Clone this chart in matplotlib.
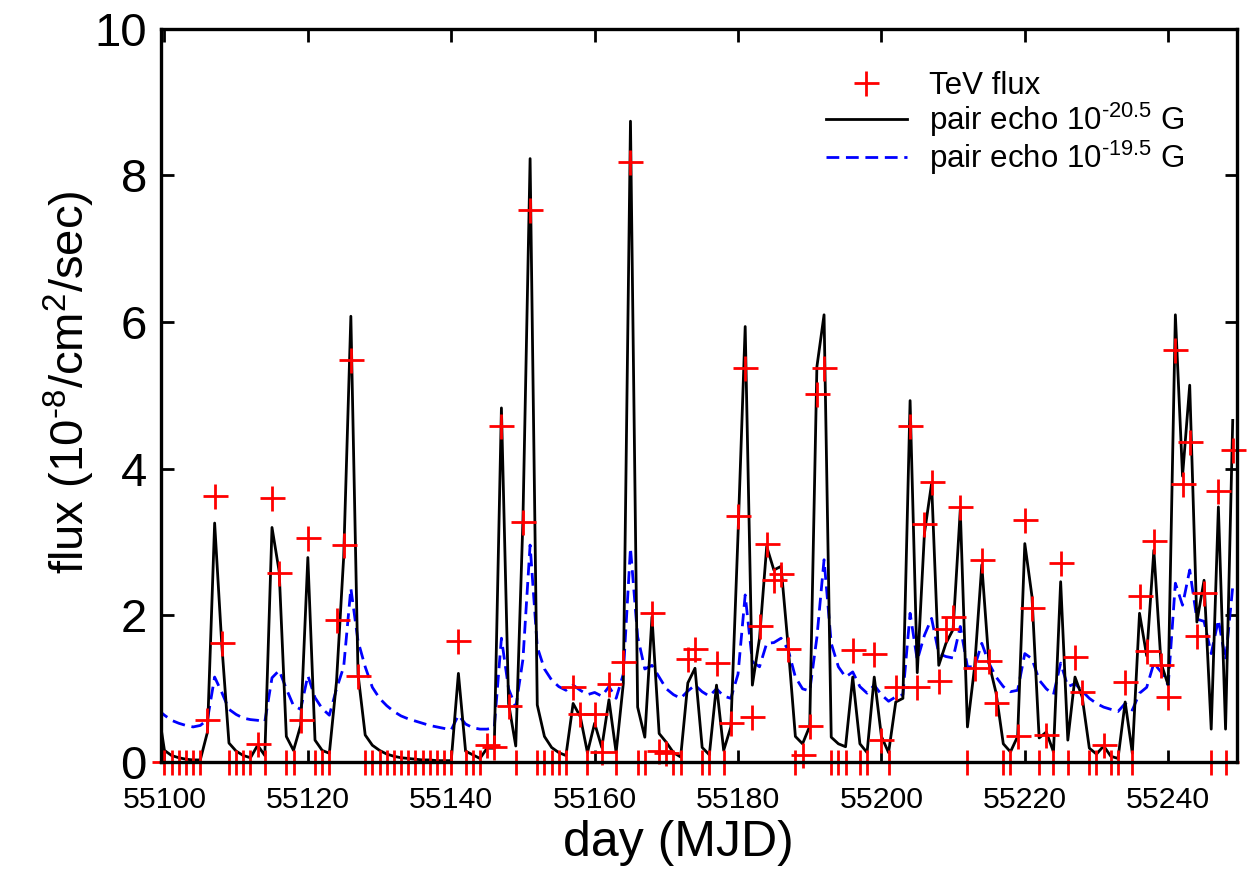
import numpy as np
import matplotlib
matplotlib.use("Agg")
import matplotlib.pyplot as plt

plt.rcParams["font.family"] = ["Liberation Sans", "DejaVu Sans"]
plt.rcParams["mathtext.default"] = "regular"
plt.rcParams["axes.unicode_minus"] = False

# ---- model curves, one value per day from MJD 55099 to 55249 ----
model_day = np.arange(55099, 55250)

echo_205 = [
    0.80,                                                        # 99
    0.16, 0.09, 0.06, 0.04, 0.03, 0.03, 0.41, 3.26, 1.60, 0.26,  # 100-109
    0.15, 0.09, 0.06, 0.23, 0.09, 3.20, 2.60, 0.35, 0.16, 0.50,  # 110-119
    2.79, 0.30, 0.16, 0.12, 1.10, 2.80, 6.08, 1.20, 0.37, 0.23,  # 120-129
    0.16, 0.11, 0.08, 0.06, 0.05, 0.04, 0.03, 0.03, 0.02, 0.02,  # 130-139
    0.02, 1.21, 0.15, 0.10, 0.05, 0.19, 0.19, 4.83, 0.80, 0.22,  # 140-149
    3.30, 8.23, 0.78, 0.35, 0.20, 0.13, 0.09, 0.80, 0.62, 0.13,  # 150-159
    0.53, 0.20, 0.85, 0.13, 1.07, 8.74, 0.75, 0.34, 1.98, 0.39,  # 160-169
    0.27, 0.13, 0.07, 1.08, 1.28, 0.20, 0.10, 1.05, 0.16, 0.48,  # 170-179
    3.10, 5.94, 1.05, 1.69, 2.94, 2.62, 2.67, 1.57, 0.35, 0.25,  # 180-189
    0.49, 5.39, 6.10, 0.34, 0.25, 0.21, 1.16, 0.25, 0.13, 1.16,  # 190-199
    0.35, 0.13, 0.82, 0.87, 4.93, 1.22, 3.12, 3.80, 1.32, 1.62,  # 200-209
    1.81, 3.44, 0.48, 1.30, 2.69, 1.35, 0.94, 0.25, 0.14, 0.35,  # 210-219
    2.98, 2.26, 0.33, 0.41, 0.14, 2.46, 0.30, 1.16, 0.89, 0.19,  # 220-229
    0.11, 0.22, 0.08, 0.05, 0.82, 0.12, 2.03, 1.45, 2.89, 1.35,  # 230-239
    1.05, 6.10, 3.90, 5.14, 1.91, 2.48, 0.45, 3.48, 0.45, 4.66,  # 240-249
]

echo_195 = [
    0.72,                                                        # 99
    0.64, 0.57, 0.53, 0.50, 0.48, 0.50, 0.58, 1.16, 0.95, 0.72,  # 100-109
    0.65, 0.60, 0.58, 0.57, 0.55, 1.15, 1.25, 1.00, 0.77, 0.72,  # 110-119
    1.18, 0.88, 0.73, 0.64, 1.00, 1.30, 2.37, 1.65, 1.30, 1.02,  # 120-129
    0.87, 0.77, 0.69, 0.63, 0.59, 0.56, 0.53, 0.50, 0.48, 0.46,  # 130-139
    0.44, 0.64, 0.52, 0.47, 0.45, 0.45, 0.47, 1.69, 1.00, 0.75,  # 140-149
    1.40, 2.96, 1.57, 1.27, 1.12, 1.03, 0.98, 1.05, 0.98, 0.92,  # 150-159
    0.95, 0.90, 1.03, 0.87, 1.20, 2.92, 1.71, 1.27, 1.32, 1.16,  # 160-169
    1.00, 0.92, 0.87, 0.97, 1.05, 0.96, 0.90, 1.00, 0.90, 0.87,  # 170-179
    1.20, 2.28, 1.37, 1.30, 1.62, 1.63, 1.69, 1.53, 1.16, 1.00,  # 180-189
    0.97, 1.70, 2.76, 1.62, 1.30, 1.16, 1.23, 1.03, 0.94, 1.05,  # 190-199
    0.92, 0.83, 0.89, 0.92, 2.03, 1.39, 1.73, 1.96, 1.48, 1.44,  # 200-209
    1.42, 1.85, 1.30, 1.30, 1.62, 1.35, 1.16, 1.03, 0.96, 0.98,  # 210-219
    1.48, 1.41, 1.12, 1.00, 0.92, 1.35, 1.03, 1.07, 0.97, 0.87,  # 220-229
    0.80, 0.75, 0.72, 0.69, 0.80, 0.71, 0.94, 1.02, 1.35, 1.23,  # 230-239
    1.05, 2.44, 2.14, 2.62, 1.95, 1.92, 1.48, 1.94, 1.39, 2.39,  # 240-249
]

# ---- TeV observations (MJD - 55000, flux in 1e-8 /cm^2/s) ----
tev_day = [
    100, 101, 102, 103, 104, 105, 106, 107, 108, 109,
    110, 111, 112, 113, 114, 115, 116, 117, 118, 119,
    120, 121, 122, 123, 124, 125, 126, 127, 128, 129,
    130, 131, 132, 133, 134, 135, 136, 137, 138, 139,
    140, 141, 142, 143, 144, 145, 146, 147, 148, 149,
    150, 151, 152, 153, 154, 155, 156, 157, 158, 159,
    160, 161, 162, 163, 164, 165, 166, 167, 168, 169,
    170, 171, 172, 173, 174, 175, 176, 177, 178, 179,
    180, 181, 182, 183, 184, 185, 186, 187, 188, 189,
    190, 191, 192, 193, 194, 195, 196, 197, 198, 199,
    200, 201, 202, 204, 205, 206, 207, 208, 209,
    210, 211, 212, 213, 214, 215, 216, 217, 218, 219,
    220, 221, 222, 223, 224, 225, 226, 227, 228, 229,
    230, 231, 232, 233, 234, 235, 236, 237, 238, 239,
    240, 241, 242, 243, 244, 245, 246, 247, 248, 249,
]
tev_flux = [
    0, 0, 0, 0, 0, 0, 0.57, 3.63, 1.63, 0,
    0, 0, 0, 0.25, 0, 3.60, 2.58, 0, 0, 0.57,
    3.05, 0, 0, 0, 1.94, 2.96, 5.49, 1.18, 0, 0,
    0, 0, 0, 0, 0, 0, 0, 0, 0, 0,
    0, 1.65, 0, 0, 0, 0.24, 0.20, 4.58, 0.76, 0,
    3.27, 7.53, 0, 0, 0, 0, 0, 1.02, 0.66, 0,
    0.66, 0.14, 1.07, 0, 1.37, 8.19, 0, 0, 2.04, 0.15,
    0.12, 0, 0, 1.41, 1.54, 0, 0, 1.35, 0, 0.53,
    3.35, 5.37, 0.62, 1.85, 2.98, 2.49, 2.56, 1.54, 0, 0.10,
    0.49, 5.02, 5.37, 0, 0, 0, 1.53, 0, 0, 1.48,
    0.30, 0, 1.02, 4.58, 1.02, 3.25, 3.82, 1.11, 1.82,
    1.98, 3.48, 0, 1.29, 2.76, 1.38, 0.80, 0, 0, 0.35,
    3.30, 2.10, 0, 0.37, 0, 2.71, 0, 1.43, 0.95, 0,
    0, 0.23, 0, 0, 1.09, 0, 2.26, 1.51, 3.02, 1.32,
    0.89, 5.62, 3.79, 4.36, 1.72, 2.31, 0, 3.70, 0, 4.26,
]

xticks = [55100, 55120, 55140, 55160, 55180, 55200, 55220, 55240]
yticks = [0, 2, 4, 6, 8, 10]

HY = "\u2010"  # plain hyphen in the exponents, as in the original figure

fig = plt.figure(figsize=(12.47, 8.73), dpi=100)
ax = fig.add_axes([0.129, 0.127, 0.863, 0.840])

tev_mjd = np.array(tev_day) + 55000
ax.plot(tev_mjd, tev_flux, ls="none", marker="+", color="red", ms=18,
        mew=2.0, clip_on=False, zorder=2.2, label="TeV flux")
ax.plot(model_day, echo_205, color="black", lw=2.0, zorder=2.1,
        label="pair echo 10$^{" + HY + "20.5}$ G")
ax.plot(model_day, echo_195, color="blue", lw=2.0, dashes=(4.6, 2.4),
        zorder=2.0, label="pair echo 10$^{" + HY + "19.5}$ G")

ax.set_xlim(55099.5, 55249.6)
ax.set_ylim(0, 10)
ax.set_xticks(xticks)
ax.set_yticks(yticks)
ax.tick_params(direction="in", top=True, right=True, length=9, width=2)
ax.tick_params(axis="x", labelsize=21.8, pad=17)
ax.tick_params(axis="y", labelsize=34, pad=10)
for s in ax.spines.values():
    s.set_linewidth(2.4)

ax.set_xlabel("day (MJD)", fontsize=36)
ax.xaxis.set_label_coords(0.4805, -0.079)
ax.set_ylabel("flux (10$^{" + HY + "8}$/cm$^{2}$/sec)", fontsize=34)
ax.yaxis.set_label_coords(-0.0595, 0.518)

ax.legend(loc="upper left", bbox_to_anchor=(0.662, 0.919),
          bbox_transform=fig.transFigure, frameon=False, fontsize=22.5,
          handlelength=2.6, handletextpad=0.7, labelspacing=0.0,
          borderpad=0, borderaxespad=0, numpoints=1)

fig.savefig("out.png", dpi=100, facecolor="white")
